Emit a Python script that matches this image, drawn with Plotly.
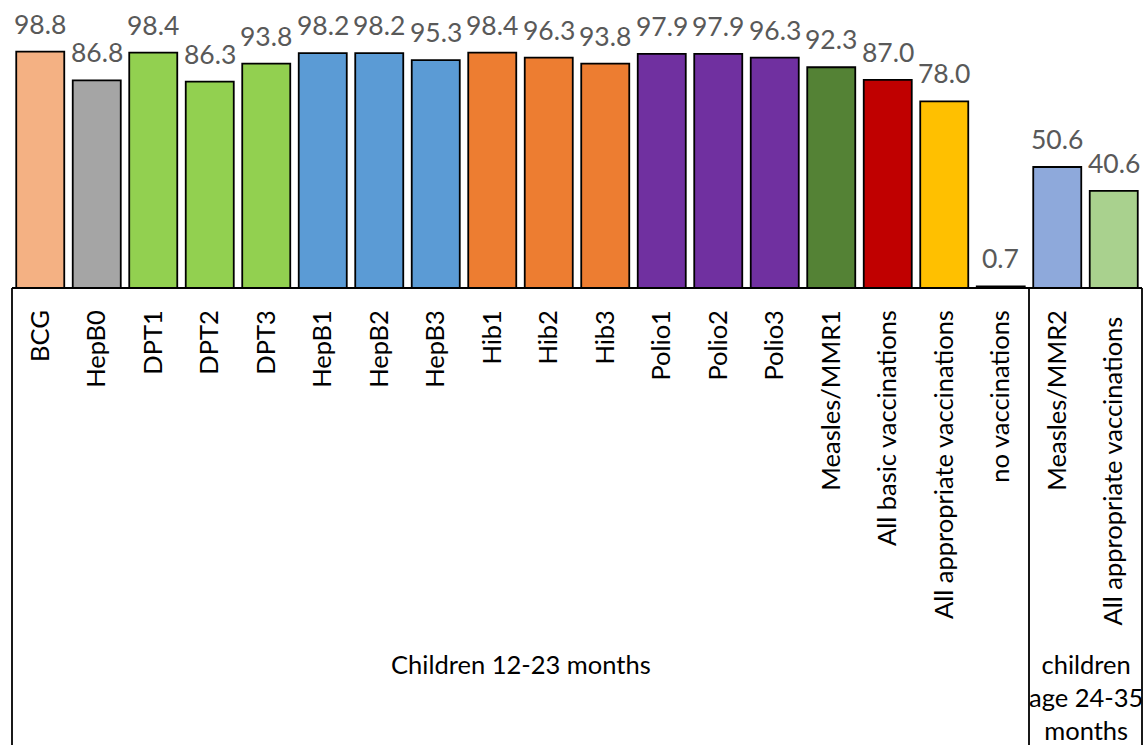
import plotly.graph_objects as go

categories = ["BCG", "HepB0", "DPT1", "DPT2", "DPT3", "HepB1", "HepB2", "HepB3",
              "Hib1", "Hib2", "Hib3", "Polio1", "Polio2", "Polio3", "Measles/MMR1",
              "All basic vaccinations", "All appropriate vaccinations", "no vaccinations",
              "Measles/MMR2", "All appropriate vaccinations "]
values = [98.8, 86.8, 98.4, 86.3, 93.8, 98.2, 98.2, 95.3, 98.4, 96.3, 93.8,
          97.9, 97.9, 96.3, 92.3, 87.0, 78.0, 0.7, 50.6, 40.6]
colors = ["#F4B183", "#A5A5A5", "#92D050", "#92D050", "#92D050",
          "#5B9BD5", "#5B9BD5", "#5B9BD5", "#ED7D31", "#ED7D31", "#ED7D31",
          "#7030A0", "#7030A0", "#7030A0", "#548235", "#C00000", "#FFC000",
          "#7F7F7F", "#8EA9DB", "#A9D18E"]
groups = ["Children 12-23 months", "children<br>age 24-35<br>months"]
group_sizes = [18, 2]

FONT = "Lato"
W, H = 1147, 745
ML, MR, MT, MB = 12, 5, 1, 457

fig = go.Figure()
fig.add_trace(go.Bar(
    x=categories, y=values,
    marker=dict(color=colors, line=dict(color="black", width=1.8)),
    hoverinfo="skip",
))

for c, v in zip(categories, values):
    fig.add_annotation(x=c, y=v, text=f"{v:.1f}", showarrow=False,
                       xref="x", yref="y", yanchor="bottom", yshift=10,
                       font=dict(family=FONT, size=26.5, color="#595959"))

# group labels and separators
plot_h = H - MT - MB
bottom = -(MB + 5) / plot_h
n = len(categories)
start = 0
fig.add_shape(type="line", xref="paper", yref="paper", x0=0, x1=1, y0=0, y1=0,
              line=dict(color="black", width=1.8))
fig.add_shape(type="line", xref="paper", yref="paper", x0=0, x1=0, y0=0, y1=bottom,
              line=dict(color="black", width=1.8))
for g, s in zip(groups, group_sizes):
    end = start + s
    fig.add_shape(type="line", xref="paper", yref="paper", x0=end / n, x1=end / n,
                  y0=0, y1=bottom, line=dict(color="black", width=1.8))
    fig.add_annotation(x=(start + end) / 2 / n, y=-(647 - (MT + plot_h)) / plot_h,
                       xref="paper", yref="paper", text=g, showarrow=False,
                       yanchor="top", xanchor="center",
                       font=dict(family=FONT, size=25.5, color="black"))
    start = end

fig.update_layout(
    width=W, height=H,
    margin=dict(l=ML, r=MR, t=MT, b=MB, pad=0),
    paper_bgcolor="white", plot_bgcolor="white",
    bargap=0.15, showlegend=False,
    xaxis=dict(tickangle=-90, showgrid=False, showline=False, ticks="",
               ticklabelstandoff=16,
               tickfont=dict(family=FONT, size=25.5, color="black"),
               range=[-0.5, n - 0.5], fixedrange=True),
    yaxis=dict(range=[0, 120], visible=False, fixedrange=True),
)

fig.write_html("out.html")
